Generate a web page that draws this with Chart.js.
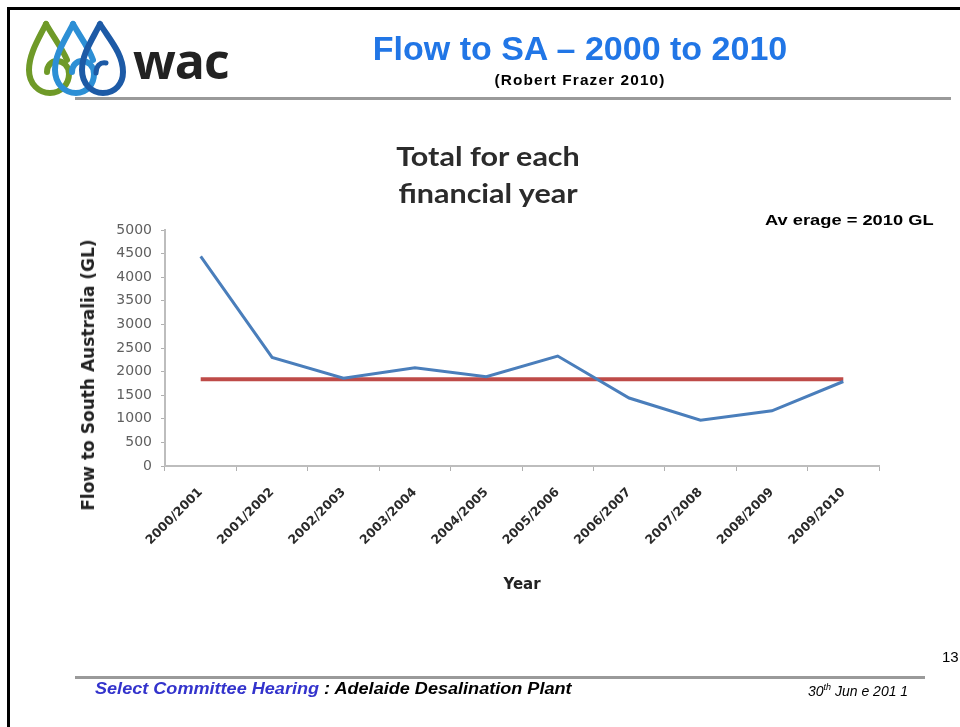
<!DOCTYPE html>
<html lang="en">
<head>
    <meta charset="UTF-8">
    <title>Flow to SA - 2000 to 2010</title>
    <script src="https://cdn.jsdelivr.net/npm/chart.js"></script>
    <style>
        body {
            margin: 0;
            background-color: #ffffff;
            font-family: "Liberation Sans", Arial, sans-serif;
        }
        .slide {
            position: relative;
            width: 960px;
            height: 727px;
            overflow: hidden;
        }
        .slide canvas {
            position: absolute;
            left: 0;
            top: 0;
        }
        .frame-top {
            position: absolute; left: 7px; top: 7px; width: 960px; height: 3px; background: #000;
        }
        .frame-left {
            position: absolute; left: 7px; top: 7px; width: 3px; height: 730px; background: #000;
        }
        .rule {
            position: absolute; height: 3px; background: #9a9a9a;
        }
        .txt {
            position: absolute;
            white-space: nowrap;
        }
        .title {
            left: 330px; top: 29px; width: 500px; text-align: center;
            font: bold 34px "Liberation Sans", Arial, sans-serif;
            color: #2176e6;
        }
        .subtitle {
            left: 430px; top: 72px; width: 300px; text-align: center;
            font: bold 14px "Liberation Sans", Arial, sans-serif;
            letter-spacing: 1px;
            transform: scaleX(1.1);
            color: #000;
        }
        .chart-title {
            left: 338px; top: 137px; width: 300px; text-align: center;
            font: bold 27px Lato, sans-serif;
            line-height: 37px;
            transform: scaleX(1.13);
            color: #2b2b2b;
        }
        .average {
            left: 765px; top: 211px;
            font: bold 15.5px "Liberation Sans", Arial, sans-serif;
            transform-origin: 0 0;
            transform: scaleX(1.18);
            color: #000;
        }
        .y-title {
            left: 88px; top: 375px;
            font: bold 17px "DejaVu Sans", sans-serif;
            color: #222;
            transform: translate(-50%, -50%) rotate(-90deg);
        }
        .page-no {
            left: 942px; top: 648px;
            font: 15px "Liberation Sans", Arial, sans-serif;
            color: #000;
        }
        .footer {
            left: 95px; top: 680px;
            font: italic bold 16px "Liberation Sans", Arial, sans-serif;
            transform-origin: 0 0;
            transform: scaleX(1.13);
            color: #000;
        }
        .footer .hl { color: #3333cc; }
        .date {
            left: 808px; top: 682px;
            font: italic 14px "Liberation Sans Narrow", "Liberation Sans", Arial, sans-serif;
            color: #000;
        }
        .wac {
            left: 133px; top: 26px;
            font: bold 50px "Open Sans", sans-serif;
            color: #222;
            letter-spacing: -1px;
        }
    </style>
</head>
<body>
<div class="slide">
    <canvas id="graph" width="960" height="727"></canvas>

    <div class="frame-top"></div>
    <div class="frame-left"></div>
    <div class="rule" style="left:75px; top:97px; width:876px;"></div>
    <div class="rule" style="left:75px; top:676px; width:850px;"></div>

    <!-- logo: three drops -->
    <svg style="position:absolute; left:24px; top:18px;" width="110" height="80" viewBox="0 0 110 80">
        <path d="M22 6 C14 22 5 36 5 52 C5 66 15 75 26 75 C37 75 45 66 45 56 C45 48 39 43 33 43 C27 43 23 48 23 54" fill="none" stroke="#6f9a28" stroke-width="6" stroke-linecap="round"/>
        <path d="M22 6 C30 20 38 30 43 42" fill="none" stroke="#6f9a28" stroke-width="6" stroke-linecap="round"/>
        <path d="M49 6 C41 22 31 36 31 52 C31 66 41 75 52 75 C63 75 70 66 70 56 C70 48 64 43 58 43 C52 43 48 48 48 54" fill="none" stroke="#2d8fd5" stroke-width="6" stroke-linecap="round"/>
        <path d="M49 6 C57 20 65 30 69 42" fill="none" stroke="#2d8fd5" stroke-width="6" stroke-linecap="round"/>
        <path d="M76 6 C68 22 58 36 58 52 C58 66 68 75 79 75 C91 75 99 66 99 54 C99 36 86 22 76 6" fill="none" stroke="#1d5aa6" stroke-width="6" stroke-linecap="round"/>
        <path d="M72 55 C72 48 76 44 82 45" fill="none" stroke="#1d5aa6" stroke-width="5" stroke-linecap="round"/>
    </svg>
    <div class="txt wac">wac</div>

    <div class="txt title">Flow to SA – 2000 to 2010</div>
    <div class="txt subtitle">(Robert Frazer 2010)</div>
    <div class="txt chart-title">Total for each<br>financial year</div>
    <div class="txt average">Av erage = 2010 GL</div>
    <div class="txt y-title">Flow to South Australia (GL)</div>
    <div class="txt page-no">13</div>
    <div class="txt footer"><span class="hl">Select Committee Hearing</span> : Adelaide Desalination Plant</div>
    <div class="txt date">30<sup style="font-size:9px;">th</sup> Jun e 201 1</div>
</div>

<script>
    // financial years on the x axis
    const years = ['2000/2001', '2001/2002', '2002/2003', '2003/2004', '2004/2005',
                   '2005/2006', '2006/2007', '2007/2008', '2008/2009', '2009/2010'];

    // total flow to South Australia per year (GL)
    const flowGL = [4440, 2300, 1860, 2080, 1890, 2330, 1440, 970, 1170, 1790];

    // average line as drawn on the slide
    const averageGL = [1840, 1840, 1840, 1840, 1840, 1840, 1840, 1840, 1840, 1840];

    // y axis range
    const yMin = 0;
    const yMax = 5000;
    const yStep = 500;

    const ctx = document.getElementById('graph').getContext('2d');
    new Chart(ctx, {
        type: 'line',
        data: {
            labels: years,
            datasets: [
                {
                    label: 'Average',
                    data: averageGL,
                    borderColor: '#be4b48',
                    borderWidth: 4,
                    pointRadius: 0,
                    fill: false,
                    order: 2,
                },
                {
                    label: 'Flow to SA',
                    data: flowGL,
                    borderColor: '#4a7ebb',
                    borderWidth: 3,
                    pointRadius: 0,
                    tension: 0,
                    fill: false,
                    order: 1,
                },
            ],
        },
        options: {
            responsive: false,
            animation: false,
            layout: {
                padding: { left: 65, right: 81, top: 230, bottom: 131 },
            },
            plugins: {
                legend: { display: false },
                title: { display: false },
                tooltip: { enabled: false },
            },
            scales: {
                x: {
                    offset: true,
                    grid: {
                        offset: true,
                        drawOnChartArea: false,
                        drawTicks: true,
                        tickLength: 5,
                        color: '#b0b0b0',
                        lineWidth: 1,
                    },
                    border: { color: '#bdbdbd', width: 2 },
                    ticks: {
                        minRotation: 45,
                        maxRotation: 45,
                        color: '#2a2a2a',
                        padding: 14,
                        font: { family: 'DejaVu Sans', size: 12.5, weight: 'bold' },
                    },
                    title: {
                        display: true,
                        text: 'Year',
                        color: '#222',
                        font: { family: 'DejaVu Sans', size: 15, weight: 'bold' },
                        padding: { top: 0, bottom: 2 },
                    },
                    afterFit: (scale) => { scale.height = 130; },
                },
                y: {
                    min: yMin,
                    max: yMax,
                    grid: {
                        drawOnChartArea: false,
                        drawTicks: true,
                        tickLength: 4,
                        color: '#b0b0b0',
                    },
                    border: { color: '#bdbdbd', width: 2 },
                    ticks: {
                        stepSize: yStep,
                        color: '#5f5f5f',
                        padding: 9,
                        font: { family: 'DejaVu Sans', size: 14 },
                        callback: (value) => String(value),
                    },
                    title: { display: false },
                    afterFit: (scale) => { scale.width = 100; },
                },
            },
        },
    });
</script>
</body>
</html>
